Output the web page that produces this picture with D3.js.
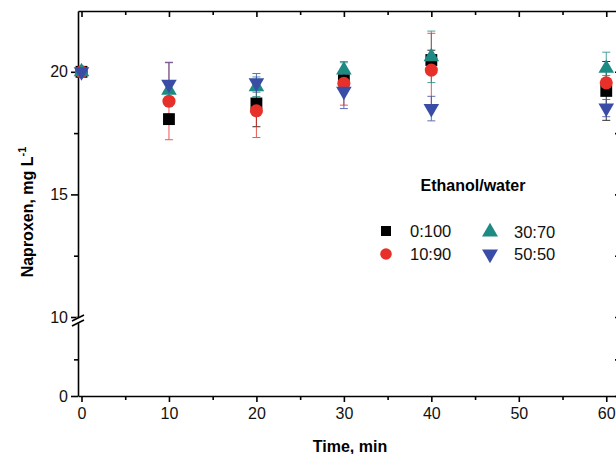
<!DOCTYPE html>
<html>
<head>
<meta charset="utf-8">
<script src="https://cdn.jsdelivr.net/npm/d3@7"></script>
<style>
  body { margin: 0; background: #fff; }
  svg { display: block; font-family: "Liberation Sans", Arial, sans-serif; }
  .axis text { font-size: 16px; fill: #111; }
  .axis path, .axis line { stroke: #000; stroke-width: 1.6; }
</style>
</head>
<body>
<div id="chart"></div>
<script>
// sampling times (min)
const times = [0, 10, 20, 30, 40, 60];
const seriesNames = ['0:100', '10:90', '30:70', '50:50'];

// naproxen concentration, mg/L
const conc0100 = [20.0, 18.07, 18.71, 19.66, 20.48, 19.22];
const err0100  = [0.10, 0.20, 0.95, 0.30, 0.40, 1.20];
const conc1090 = [20.0, 18.80, 18.41, 19.53, 20.07, 19.55];
const err1090  = [0.10, 1.57, 1.09, 0.89, 1.50, 0.30];
const conc3070 = [20.0, 19.25, 19.39, 20.07, 20.61, 20.14];
const err3070  = [0.10, 0.30, 0.40, 0.30, 1.05, 0.66];
const conc5050 = [20.0, 19.49, 19.55, 19.21, 18.50, 18.52];
const err5050  = [0.10, 0.90, 0.38, 0.71, 0.50, 0.35];

const xTicks = [0, 10, 20, 30, 40, 50, 60];
const xMinor = [5, 15, 25, 35, 45, 55];

const W = 616, H = 454;
const svg = d3.select('#chart').append('svg').attr('width', W).attr('height', H);

const x = d3.scaleLinear().domain([-0.4, 61.8]).range([78, 622]);
const yTop = d3.scaleLinear().domain([10, 22.48]).range([317, 11]);   // upper segment
const yBot = d3.scaleLinear().domain([0, 10]).range([396, 322.7]);    // lower segment

const colors = ['#000000', '#e8302a', '#1d8a83', '#3a4da6'];
const shapes = [
  { type: d3.symbolSquare, size: 140, rot: 0 },
  { type: d3.symbolCircle, size: 135, rot: 0 },
  { type: d3.symbolTriangle, size: 105, rot: 0 },
  { type: d3.symbolTriangle, size: 105, rot: 180 }
];

// axes
const leftAx = svg.append('g').attr('class', 'axis').attr('transform', `translate(${x.range()[0]},0)`);
leftAx.call(d3.axisLeft(yTop).tickValues([10, 15, 20]).tickSize(7).tickSizeOuter(0).tickPadding(3));
leftAx.append('g').call(d3.axisLeft(yTop).tickValues([12.5, 17.5]).tickSize(4).tickFormat(''))
  .select('.domain').remove();
const leftAxB = svg.append('g').attr('class', 'axis').attr('transform', `translate(${x.range()[0]},0)`);
leftAxB.call(d3.axisLeft(yBot).tickValues([0]).tickSize(7).tickSizeOuter(0).tickPadding(3));
leftAxB.append('g').call(d3.axisLeft(yBot).tickValues([5]).tickSize(4).tickFormat(''))
  .select('.domain').remove();

// faint right axis, mostly outside the frame
const rightAx = svg.append('g').attr('class', 'axis').attr('transform', `translate(${x.range()[1]},0)`);
rightAx.call(d3.axisRight(yTop).tickValues([10, 12.5, 15, 17.5, 20]).tickSize(-7).tickSizeOuter(0).tickFormat(''));
rightAx.append('g').call(d3.axisRight(yBot).tickValues([0, 5]).tickSize(-7).tickSizeOuter(0).tickFormat(''));
rightAx.selectAll('line,path').attr('stroke', '#999');

const bottomAx = svg.append('g').attr('class', 'axis').attr('transform', `translate(0,${yBot(0)})`);
bottomAx.call(d3.axisBottom(x).tickValues(xTicks).tickSize(6).tickSizeOuter(0).tickPadding(6));
bottomAx.append('g').call(d3.axisBottom(x).tickValues(xMinor).tickSize(4).tickFormat(''))
  .select('.domain').remove();

const topAx = svg.append('g').attr('class', 'axis').attr('transform', `translate(0,${yTop.range()[1]})`);
topAx.call(d3.axisTop(x).tickValues(xTicks).tickSize(-6).tickSizeOuter(0).tickFormat(''));
topAx.append('g').call(d3.axisTop(x).tickValues(xMinor).tickSize(-4).tickFormat(''))
  .select('.domain').remove();

// axis break marks
const bx = x.range()[0];
svg.append('rect').attr('x', bx - 2).attr('y', yTop(10) + 0.5).attr('width', 4)
  .attr('height', yBot(10) - yTop(10) - 1).attr('fill', '#fff');
[0, 5].forEach(d => {
  svg.append('line')
    .attr('x1', bx - 6).attr('y1', yTop(10) + 4 + d)
    .attr('x2', bx + 6).attr('y2', yTop(10) - 2 + d)
    .attr('stroke', '#000').attr('stroke-width', 1.6);
});

// data
const concs = [conc0100, conc1090, conc3070, conc5050];
const errs = [err0100, err1090, err3070, err5050];
const series = seriesNames.map((name, i) => ({
  name, color: colors[i], shape: shapes[i],
  values: times.map((t, j) => ({ t, v: concs[i][j], e: errs[i][j] }))
}));

// error bars first
series.forEach(s => {
  const g = svg.append('g').attr('stroke', s.color).attr('stroke-width', 1).attr('opacity', 0.8);
  s.values.forEach(d => {
    const cx = x(d.t), y1 = yTop(d.v + d.e), y2 = yTop(d.v - d.e);
    g.append('line').attr('x1', cx).attr('x2', cx).attr('y1', y1).attr('y2', y2);
    g.append('line').attr('x1', cx - 4).attr('x2', cx + 4).attr('y1', y1).attr('y2', y1);
    g.append('line').attr('x1', cx - 4).attr('x2', cx + 4).attr('y1', y2).attr('y2', y2);
  });
});

series.forEach(s => {
  const sym = d3.symbol().type(s.shape.type).size(s.shape.size);
  svg.append('g').selectAll('path').data(s.values).join('path')
    .attr('d', sym)
    .attr('transform', d => `translate(${x(d.t)},${yTop(d.v)}) rotate(${s.shape.rot})`)
    .attr('fill', s.color);
});

// titles
svg.append('text').attr('x', 350).attr('y', 452).attr('text-anchor', 'middle')
  .attr('font-size', 16).attr('font-weight', 'bold').text('Time, min');

const yt = svg.append('text').attr('transform', 'translate(33,212) rotate(-90)')
  .attr('text-anchor', 'middle').attr('font-size', 16).attr('font-weight', 'bold');
yt.append('tspan').text('Naproxen, mg L');
yt.append('tspan').attr('font-size', 11).attr('dy', -7).text('-1');

// legend
svg.append('text').attr('x', 473).attr('y', 191).attr('text-anchor', 'middle')
  .attr('font-size', 16).attr('font-weight', 'bold').text('Ethanol/water');

const legendPos = [[386, 231], [386, 254], [490, 232], [490, 254]];
const legendSize = [100, 105, 110, 110];
series.forEach((s, i) => {
  const [lx, ly] = legendPos[i];
  svg.append('path')
    .attr('d', d3.symbol().type(s.shape.type).size(legendSize[i]))
    .attr('transform', `translate(${lx},${ly}) rotate(${s.shape.rot})`)
    .attr('fill', s.color);
  svg.append('text').attr('x', lx + 24).attr('y', ly + 6)
    .attr('font-size', 16.5).attr('fill', '#111').text(s.name);
});
</script>
</body>
</html>
